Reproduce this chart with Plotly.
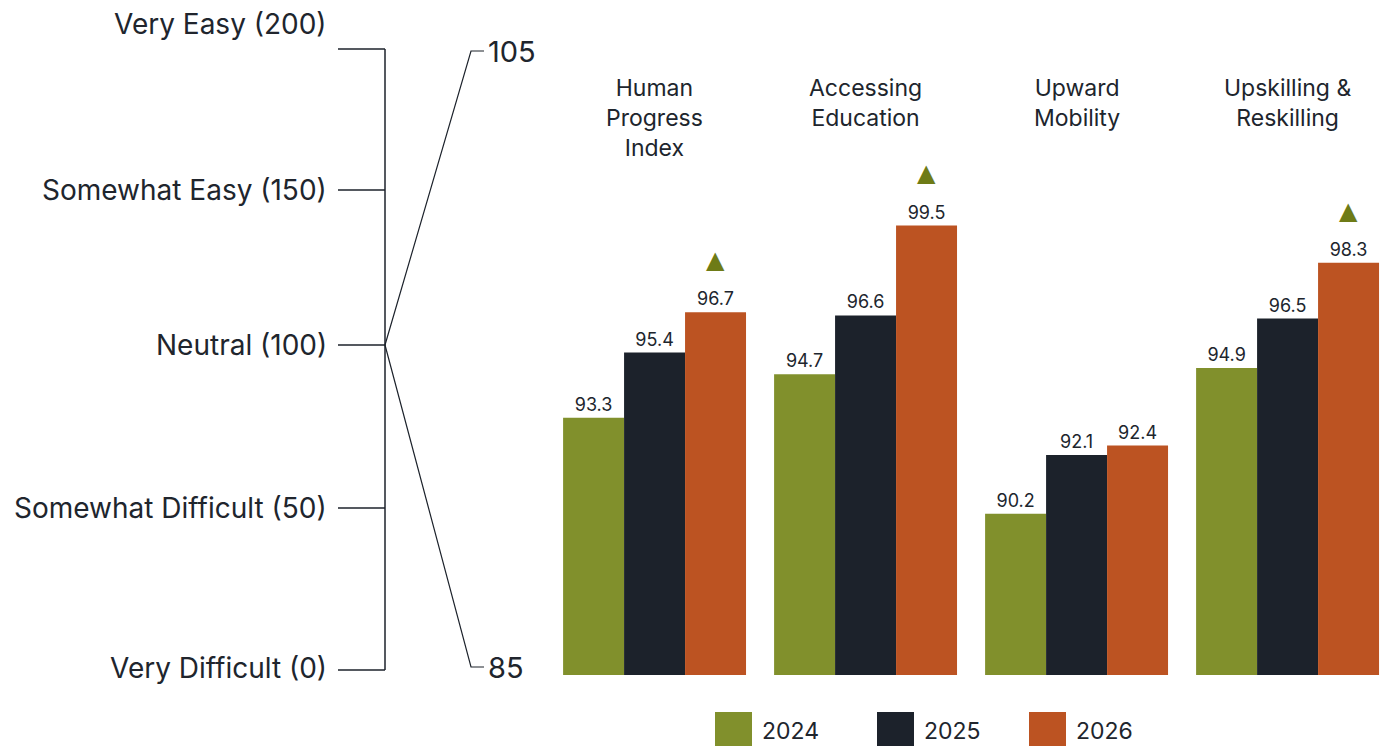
import plotly.graph_objects as go

# ---- data ----
categories = ["Human Progress Index", "Accessing Education", "Upward Mobility", "Upskilling & Reskilling"]
category_labels = ["Human<br>Progress<br>Index", "Accessing<br>Education", "Upward<br>Mobility", "Upskilling &<br>Reskilling"]
years = ["2024", "2025", "2026"]
values_2024 = [93.3, 94.7, 90.2, 94.9]
values_2025 = [95.4, 96.6, 92.1, 96.5]
values_2026 = [96.7, 99.5, 92.4, 98.3]
rising_2026 = [True, True, False, True]

scale_labels = ["Very Easy (200)", "Somewhat Easy (150)", "Neutral (100)", "Somewhat Difficult (50)", "Very Difficult (0)"]
axis_min, axis_max = 85, 105

# ---- style ----
W, H = 1384, 746
FONT = "Inter"
TEXT = "#20252d"
LINE = "#1c222b"
colors = ["#81902c", "#1c222b", "#bc5322"]
TRI = "#6e7b16"


def px(x):
    return x / W


def py(y):
    return 1 - y / H


series = [values_2024, values_2025, values_2026]
x_idx = list(range(len(categories)))

fig = go.Figure()
for name, vals, col in zip(years, series, colors):
    fig.add_trace(go.Bar(
        x=x_idx, y=vals, name=name, marker=dict(color=col, line=dict(width=0)),
        text=[f"{v:.1f}" for v in vals], textposition="outside",
        textfont=dict(family=FONT, size=18, color=TEXT),
        cliponaxis=False, showlegend=False,
    ))

bargap = 0.133
bar_w = (1 - bargap) / 3

shapes = []
annotations = []

# category headings
for i, lab in enumerate(category_labels):
    annotations.append(dict(x=i, y=py(72), xref="x", yref="paper", text=lab, showarrow=False,
                            xanchor="center", yanchor="top", align="center",
                            font=dict(family=FONT, size=23, color=TEXT)))

# rise markers above the 2026 bars
for i, (v, up) in enumerate(zip(values_2026, rising_2026)):
    if up:
        annotations.append(dict(x=i + bar_w, y=v, xref="x", yref="y", text="▲", showarrow=False,
                                yshift=52, xanchor="center", yanchor="middle",
                                font=dict(family="DejaVu Sans", size=24, color=TRI)))

# left descriptive scale: bracket with five ticks
tick_y = [49, 190, 345, 508, 670]
bx = 385
shapes.append(dict(type="line", xref="paper", yref="paper", x0=px(bx), x1=px(bx),
                   y0=py(tick_y[0]), y1=py(tick_y[-1]), line=dict(color=LINE, width=1.5)))
for lab, ty in zip(scale_labels, tick_y):
    shapes.append(dict(type="line", xref="paper", yref="paper", x0=px(338), x1=px(bx),
                       y0=py(ty), y1=py(ty), line=dict(color=LINE, width=1.5)))
label_y = [24, 190, 345, 508, 668]
for lab, ly in zip(scale_labels, label_y):
    annotations.append(dict(x=px(329), y=py(ly), xref="paper", yref="paper", text=lab, showarrow=False,
                            xanchor="right", yanchor="middle",
                            font=dict(family=FONT, size=28, color=TEXT)))

# fan connecting neutral to the index axis extremes
apex_y = tick_y[2]
for ty, lab in [(51, str(axis_max)), (667, str(axis_min))]:
    shapes.append(dict(type="path", xref="paper", yref="paper",
                       path=f"M {px(bx)},{py(apex_y)} L {px(471)},{py(ty)} L {px(484)},{py(ty)}",
                       line=dict(color=LINE, width=1.2)))
    annotations.append(dict(x=px(486), y=py(ty), xref="paper", yref="paper", text=lab, showarrow=False,
                            xanchor="left", yanchor="middle",
                            font=dict(family=FONT, size=29, color=TEXT)))

# legend
legend_x = [715, 877, 1029]
for yr, col, lx in zip(years, colors, legend_x):
    shapes.append(dict(type="rect", xref="paper", yref="paper", x0=px(lx), x1=px(lx + 37),
                       y0=py(749), y1=py(712), fillcolor=col, line=dict(width=0)))
    annotations.append(dict(x=px(lx + 45), y=py(731), xref="paper", yref="paper", text=yr, showarrow=False,
                            xanchor="left", yanchor="middle",
                            font=dict(family=FONT, size=23, color=TEXT)))

fig.update_layout(
    width=W, height=H,
    margin=dict(l=0, r=0, t=0, b=0),
    paper_bgcolor="white", plot_bgcolor="white",
    barmode="group", bargap=bargap, bargroupgap=0,
    xaxis=dict(domain=[px(548), 1], range=[-0.505, 3.457], showticklabels=False,
               showgrid=False, zeroline=False, showline=False, ticks=""),
    yaxis=dict(domain=[py(675), py(55)], range=[axis_min, axis_max], showticklabels=False,
               showgrid=False, zeroline=False, showline=False, ticks=""),
    shapes=shapes, annotations=annotations, showlegend=False,
    font=dict(family=FONT, color=TEXT),
)

fig.write_html("out.html")
